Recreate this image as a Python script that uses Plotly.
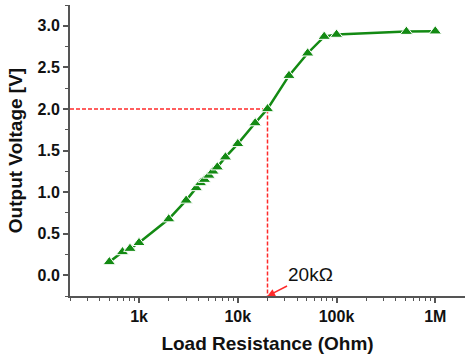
import numpy as np
import plotly.graph_objects as go

# Data
load_resistance = [500, 680, 810, 1000, 2000, 3000, 3800, 4200, 4600, 5100, 5600, 6200,
                   7500, 10000, 15000, 20000, 33000, 51000, 75000, 100000, 510000, 1000000]
output_voltage = [0.16, 0.28, 0.32, 0.39, 0.675, 0.90, 1.05, 1.11, 1.15, 1.20, 1.25, 1.30,
                  1.42, 1.58, 1.83, 2.00, 2.40, 2.67, 2.87, 2.895, 2.93, 2.935]

x_tickvals = [1e3, 1e4, 1e5, 1e6]
x_ticktext = ["1k", "10k", "100k", "1M"]
y_tickvals = [0.0, 0.5, 1.0, 1.5, 2.0, 2.5, 3.0]
y_ticktext = ["0.0", "0.5", "1.0", "1.5", "2.0", "2.5", "3.0"]

x_min, x_max = 200, 2e6
y_min, y_max = -0.25, 3.25

marker_r = 20000
marker_v = 2.0
marker_label = "20kΩ"

x_minor = [m * 10 ** e for e in range(2, 7) for m in range(2, 10)
           if x_min <= m * 10 ** e <= x_max and m * 10 ** e not in x_tickvals]
y_minor = [float(v) for v in np.arange(-0.25, 3.26, 0.25).round(2) if v not in y_tickvals]

FONT = "Liberation Sans, Arial, sans-serif"
AXC = "#555555"
TXT = "#111111"
GREEN = "#138a13"
RED = "#ff2a2a"

fig = go.Figure()
fig.add_trace(go.Scatter(
    x=[x_min, marker_r, marker_r], y=[marker_v, marker_v, y_min],
    mode="lines", line=dict(color=RED, width=1.5, dash="4px,2px"),
    hoverinfo="skip", showlegend=False))
fig.add_trace(go.Scatter(
    x=load_resistance, y=output_voltage, mode="lines+markers",
    line=dict(color=GREEN, width=2.5),
    marker=dict(symbol="triangle-up", size=11, color=GREEN,
                line=dict(color="white", width=1)),
    showlegend=False))

fig.add_annotation(
    x=np.log10(marker_r), y=y_min, xref="x", yref="y",
    text=marker_label, showarrow=True, arrowhead=2, arrowsize=1, arrowwidth=1.5,
    arrowcolor=RED, ax=43, ay=-22,
    font=dict(family=FONT, size=19, color=TXT))

fig.update_xaxes(
    type="log", range=[np.log10(x_min), np.log10(x_max)],
    tickvals=x_tickvals, ticktext=["<b>%s</b>" % t for t in x_ticktext],
    showgrid=False, zeroline=False, showline=True, linecolor=AXC, linewidth=2,
    ticks="outside", ticklen=5, tickwidth=1.5, tickcolor=AXC,
    minor=dict(tickvals=x_minor, ticks="outside", ticklen=3, tickwidth=1, tickcolor=AXC),
    tickfont=dict(family=FONT, size=16, color=TXT),
    automargin=False,
    title=dict(text="<b>Load Resistance (Ohm)</b>", standoff=12,
               font=dict(family=FONT, size=19, color=TXT)))
fig.update_yaxes(
    range=[y_min, y_max], tickvals=y_tickvals, ticktext=["<b>%s</b>" % t for t in y_ticktext],
    showgrid=False, zeroline=False, showline=True, linecolor=AXC, linewidth=2,
    ticks="outside", ticklen=5, tickwidth=1.5, tickcolor=AXC,
    minor=dict(tickvals=y_minor, ticks="outside", ticklen=3, tickwidth=1, tickcolor=AXC),
    tickfont=dict(family=FONT, size=16, color=TXT),
    automargin=False,
    title=dict(text="<b>Output Voltage [V]</b>", standoff=10,
               font=dict(family=FONT, size=19, color=TXT)))

fig.update_layout(
    width=465, height=356, margin=dict(l=70, r=0, t=5, b=60),
    plot_bgcolor="white", paper_bgcolor="white")

fig.write_html("out.html", config={"displayModeBar": False},
               post_script="document.body.style.margin='0';")
